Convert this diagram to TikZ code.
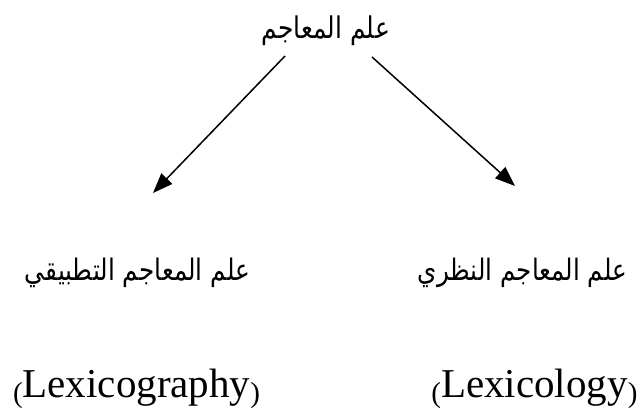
\documentclass[tikz,border=0pt]{standalone}
\usepackage{fontspec}
\setmainfont{Liberation Serif}
\newfontfamily\arabicfont[Script=Arabic]{DejaVu Sans}
\TeXXeTstate=1
\usetikzlibrary{arrows.meta}
\newcommand{\smallparen}[1]{\raisebox{-5pt}{\fontsize{29}{29}\selectfont #1}}
\newcommand{\artxt}[2]{\scalebox{1}[1.2]{\resizebox{#1}{!}{#2}}}
\begin{document}
\begin{tikzpicture}[x=1pt,y=1pt,
  artext/.style={inner sep=0pt, font=\arabicfont},
  entext/.style={inner sep=0pt, anchor=base, font=\fontsize{41}{41}\selectfont},
  branch/.style={line width=1.5pt, -{Triangle[length=20pt,width=15pt]}}]
\useasboundingbox (0,0) rectangle (641,412);
\fill[white] (0,0) rectangle (641,412);
\node[artext] (root) at (326,381) {\artxt{128pt}{\beginR علم المعاجم\endR}};
\node[artext] (applied) at (137.5,139.5) {\artxt{225pt}{\beginR علم المعاجم التطبيقي\endR}};
\node[artext] (theory) at (522.5,139.5) {\artxt{209pt}{\beginR علم المعاجم النظري\endR}};
\node[entext] (lexg) at (136.5,14) {\smallparen{(}Lexicography\smallparen{)}};
\node[entext] (lexl) at (534.5,14) {\smallparen{(}Lexicology\smallparen{)}};
\coordinate (s1) at (285,356);
\coordinate (e1) at (153,219);
\coordinate (s2) at (372,355);
\coordinate (e2) at (515,226);
\draw[branch] (s1) -- (e1);
\draw[branch] (s2) -- (e2);
\end{tikzpicture}
\end{document}
